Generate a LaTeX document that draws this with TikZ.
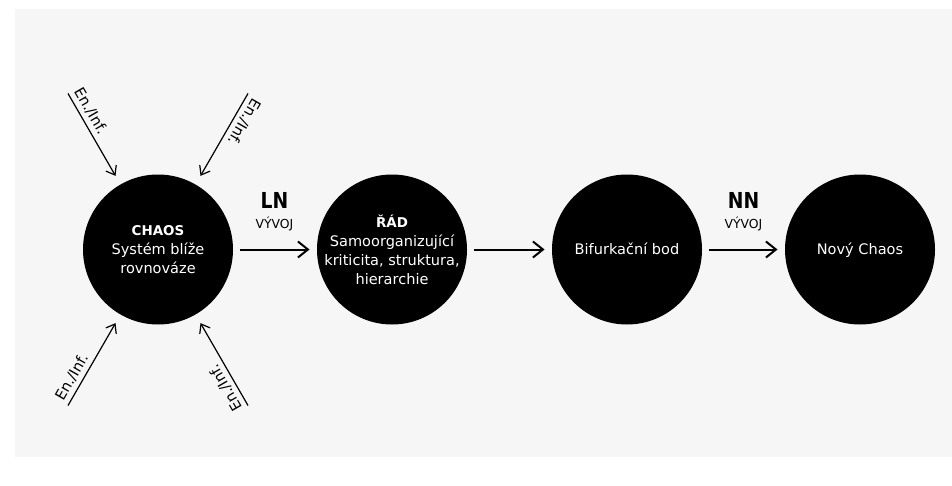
\documentclass[tikz,border=0pt]{standalone}
\usepackage{fontspec}
\setmainfont{DejaVu Sans}
\newfontfamily\condfont{DejaVu Sans}[FakeStretch=0.85]
\usetikzlibrary{arrows.meta}
\definecolor{bggray}{HTML}{F6F6F6}
\begin{document}
\begin{tikzpicture}[x=0.75pt,y=-0.75pt,
  blob/.style={circle, fill=black, minimum size=112.5pt, inner sep=0pt, outer sep=0pt},
  intext/.style={text=white, align=center, inner sep=0pt, font=\fontsize{10.9pt}{14.25pt}\selectfont},
  flow/.style={-{Straight Barb[length=7.5pt,width=12pt]}, line width=1.5pt, shorten <=5.6pt, shorten >=5.6pt},
  feed/.style={-{Straight Barb[length=6pt,width=9pt]}, line width=0.9pt, shorten >=7.5pt},
  feedlabel/.style={sloped, allow upside down, above, pos=0.25, inner sep=3pt, font=\fontsize{11pt}{12pt}\selectfont},
  evo/.style={font=\condfont\bfseries\fontsize{16.5pt}{18pt}\selectfont, anchor=base, inner sep=0pt},
  evosub/.style={font=\fontsize{9.3pt}{10pt}\selectfont, anchor=base, inner sep=0pt}
]
\useasboundingbox (0,0) rectangle (952,485);
\fill[bggray] (15,9) rectangle (952,457);

% circles
\node[blob] (chaos) at (158,249.5) {};
\node[blob] (rad) at (392,249.5) {};
\node[blob] (bif) at (627,249.5) {};
\node[blob] (novy) at (860,249.5) {};

% texts in circles
\node[intext] (chaostext) at (chaos.center) {{\bfseries\fontsize{10.1pt}{14.25pt}\selectfont CHAOS}\\Systém blíže\\rovnováze};
\node[intext] (radtext) at (rad.center) {{\bfseries\fontsize{10.1pt}{14.25pt}\selectfont ŘÁD}\\Samoorganizující\\kriticita, struktura,\\hierarchie};
\node[intext, anchor=base, yshift=-3.9pt] (biftext) at (bif.center) {Bifurkační bod};
\node[intext, anchor=base, yshift=-3.9pt] (novytext) at (novy.center) {Nový Chaos};

% flow arrows
\draw[flow] (chaos) -- (rad);
\draw[flow] (rad) -- (bif);
\draw[flow] (bif) -- (novy);

% evolution labels
\node[evo] (ln) at (274.5,208) {LN};
\node[evosub] (lnsub) at (274.5,228) {VÝVOJ};
\node[evo] (nn) at (743.5,208) {NN};
\node[evosub] (nnsub) at (743.5,228) {VÝVOJ};

% energy / information inputs
\coordinate (fa) at (68,93.5);
\coordinate (fb) at (248,93.5);
\coordinate (fc) at (68,405.5);
\coordinate (fd) at (248,405.5);
\draw[feed] (fa) -- node[feedlabel] (la) {En./Inf.} (chaos);
\draw[feed] (fb) -- node[feedlabel] (lb) {En./Inf.} (chaos);
\draw[feed] (fc) -- node[feedlabel] (lc) {En./Inf.} (chaos);
\draw[feed] (fd) -- node[feedlabel] (ld) {En./Inf.} (chaos);
\end{tikzpicture}
\end{document}
